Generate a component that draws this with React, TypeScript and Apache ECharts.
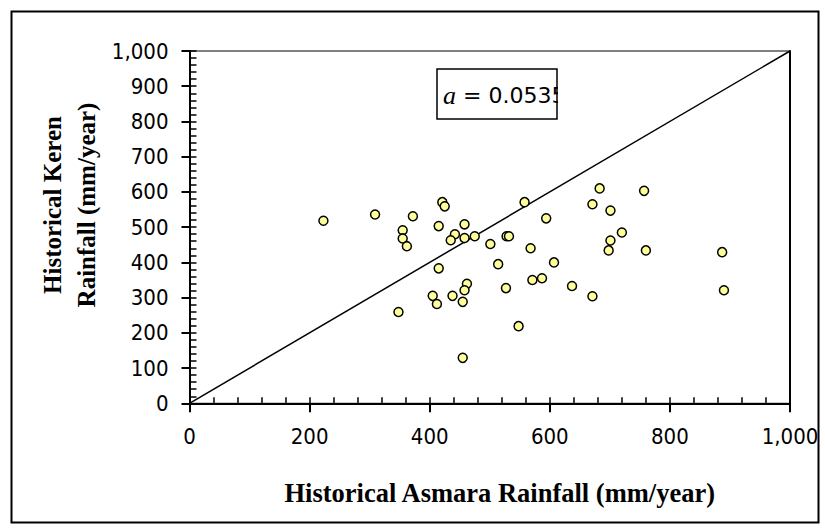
import React, { useEffect, useRef } from "react";
import * as echarts from "echarts";

// Historical annual rainfall (mm/year)
const asmaraRainfall = [
  223, 309, 355, 355, 362, 372, 421, 425, 415, 458,
  442, 435, 458, 475, 558, 501, 528, 532, 594, 568,
  415, 514, 607, 571, 587, 527, 637, 671, 462, 458,
  405, 438, 412, 455, 671, 683, 757, 701, 720, 701,
  698, 760, 887, 890, 348, 455, 548,
];
const kerenRainfall = [
  518, 536, 491, 468, 446, 531, 571, 559, 503, 508,
  480, 463, 469, 474, 571, 452, 474, 474, 525, 440,
  383, 395, 400, 350, 355, 327, 333, 304, 339, 321,
  305, 305, 282, 288, 565, 610, 603, 547, 485, 462,
  434, 434, 429, 321, 259, 129, 219,
];
const oneToOneLine = [
  [0, 0],
  [1000, 1000],
];
const xTickLabels = ["0", "200", "400", "600", "800", "1,000"];
const yTickLabels = ["0", "100", "200", "300", "400", "500", "600", "700", "800", "900", "1,000"];
const annotationValue = "0.0535";

const tickFont = '"DejaVu Sans Condensed", "Liberation Sans Narrow", "DejaVu Sans", sans-serif';
const titleFont = '"Liberation Serif", "Times New Roman", serif';

export default function App() {
  const ref = useRef<HTMLDivElement>(null);

  useEffect(() => {
    if (!ref.current) return;
    const chart = echarts.init(ref.current, null, { renderer: "svg" });
    const points = asmaraRainfall.map((x, i) => [x, kerenRainfall[i]]);

    const commonLabel = {
      color: "#000",
      fontSize: 22,
      fontFamily: tickFont,
    };

    chart.setOption({
      animation: false,
      backgroundColor: "#fff",
      grid: {
        left: 189.5,
        right: 35,
        top: 51,
        bottom: 125.7,
        show: true,
        borderColor: "#000",
        borderWidth: 1,
        backgroundColor: "transparent",
      },
      xAxis: [
        {
          type: "value",
          min: 0,
          max: 1000,
          interval: 200,
          position: "bottom",
          axisLine: { show: true, onZero: false, lineStyle: { color: "#000", width: 2 } },
          axisTick: { show: true, inside: false, length: 9, lineStyle: { color: "#000", width: 2 } },
          axisLabel: {
            ...commonLabel,
            margin: 22,
            formatter: (v: number) => xTickLabels[Math.round(v / 200)] ?? String(v),
          },
          splitLine: { show: false },
          name: "Historical Asmara Rainfall (mm/year)",
          nameLocation: "middle",
          nameGap: 76,
          nameTextStyle: {
            color: "#000",
            fontSize: 26.5,
            fontWeight: "bold",
            fontFamily: titleFont,
            padding: [0, 0, 0, 20],
          },
        },
        {
          type: "value",
          min: 0,
          max: 1000,
          interval: 40,
          position: "bottom",
          axisLine: { show: false, onZero: false },
          axisTick: { show: true, inside: true, length: 6, lineStyle: { color: "#000", width: 1.5 } },
          axisLabel: { show: false },
          splitLine: { show: false },
        },
      ],
      yAxis: [
        {
          type: "value",
          min: 0,
          max: 1000,
          interval: 100,
          position: "left",
          axisLine: { show: true, onZero: false, lineStyle: { color: "#000", width: 2 } },
          axisTick: { show: true, inside: false, length: 8, lineStyle: { color: "#000", width: 2 } },
          axisLabel: {
            ...commonLabel,
            margin: 21,
            formatter: (v: number) => yTickLabels[Math.round(v / 100)] ?? String(v),
          },
          splitLine: { show: false },
        },
        {
          type: "value",
          min: 0,
          max: 1000,
          interval: 20,
          position: "left",
          axisLine: { show: false, onZero: false },
          axisTick: { show: true, inside: true, length: 7, lineStyle: { color: "#000", width: 1.5 } },
          axisLabel: { show: false },
          splitLine: { show: false },
        },
        {
          type: "value",
          min: 0,
          max: 1000,
          position: "right",
          axisLine: { show: true, onZero: false, lineStyle: { color: "#000", width: 2 } },
          axisTick: { show: false },
          axisLabel: { show: false },
          splitLine: { show: false },
        },
      ],
      series: [
        {
          type: "line",
          xAxisIndex: 0,
          yAxisIndex: 0,
          data: oneToOneLine,
          showSymbol: false,
          symbol: "none",
          lineStyle: { color: "#000", width: 1.5 },
          z: 2,
          silent: true,
        },
        {
          type: "scatter",
          xAxisIndex: 0,
          yAxisIndex: 0,
          data: points,
          symbol: "circle",
          symbolSize: 9,
          itemStyle: { color: "#FFFF99", borderColor: "#000", borderWidth: 1.5, opacity: 1 },
          z: 3,
        },
      ],
      graphic: [
        {
          type: "rect",
          left: 9,
          top: 9,
          z: -10,
          shape: { x: 0, y: 0, width: 807, height: 511 },
          style: { fill: "none", stroke: "#000", lineWidth: 2 },
          silent: true,
        },
        {
          type: "text",
          x: 69,
          y: 205,
          rotation: Math.PI / 2,
          style: {
            text: "Historical Keren\nRainfall (mm/year)",
            fill: "#000",
            fontSize: 25,
            fontWeight: "bold",
            fontFamily: titleFont,
            lineHeight: 34,
            align: "center",
            verticalAlign: "middle",
          },
        },
        {
          type: "rect",
          z: 10,
          shape: { x: 437, y: 69, width: 120, height: 50 },
          style: { fill: "#fff", stroke: "#000", lineWidth: 1.5 },
        },
        {
          type: "text",
          z: 11,
          x: 443,
          y: 95,
          style: {
            text: "{i|a} = " + annotationValue,
            fill: "#000",
            fontSize: 22,
            fontFamily: '"DejaVu Sans", sans-serif',
            verticalAlign: "middle",
            rich: {
              i: {
                fontFamily: titleFont,
                fontStyle: "italic",
                fontSize: 26,
                fill: "#000",
              },
            },
          },
        },
        {
          type: "rect",
          z: 12,
          shape: { x: 558, y: 72, width: 30, height: 44 },
          style: { fill: "#fff", stroke: "none" },
          silent: true,
        },
      ],
    });

    return () => chart.dispose();
  }, []);

  return (
    <div
      ref={ref}
      style={{ position: "fixed", left: 0, top: 0, width: 825, height: 529, background: "#fff" }}
    />
  );
}
